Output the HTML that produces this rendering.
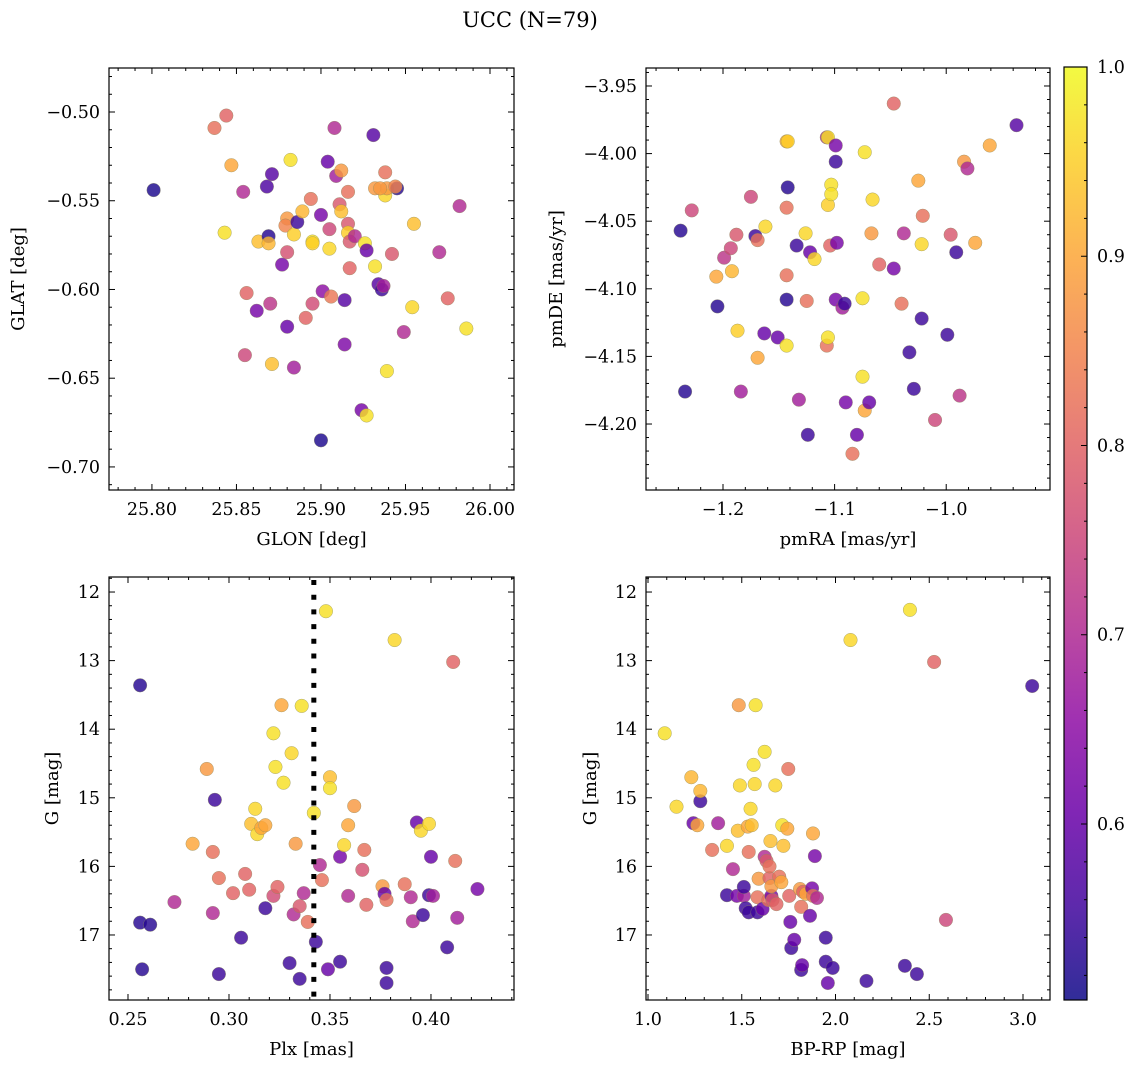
<!DOCTYPE html>
<html><head><meta charset="utf-8"><style>
body{margin:0;background:#fff;}
svg text{font-family:"DejaVu Serif","Liberation Serif",serif;fill:#000;}
</style></head><body>
<svg id="fig" width="1136" height="1067" viewBox="0 0 1136 1067" xmlns="http://www.w3.org/2000/svg">
<defs>
<linearGradient id="plasma" x1="0" y1="1" x2="0" y2="0">
<stop offset="0" stop-color="#0d0887"/><stop offset="0.1" stop-color="#41049d"/><stop offset="0.2" stop-color="#6a00a8"/><stop offset="0.3" stop-color="#8f0da4"/><stop offset="0.4" stop-color="#b12a90"/><stop offset="0.5" stop-color="#cc4778"/><stop offset="0.6" stop-color="#e16462"/><stop offset="0.7" stop-color="#f2844b"/><stop offset="0.8" stop-color="#fca636"/><stop offset="0.9" stop-color="#fcce25"/><stop offset="1" stop-color="#f0f921"/>
</linearGradient>
</defs>
<text x="530" y="27" font-size="21" text-anchor="middle">UCC (N=79)</text>
</svg>
<script>
// Panel 1: GLON vs GLAT
const glon=[25.801,25.837,25.844,25.847,25.843,25.854,25.856,25.855,25.862,25.863,25.868,25.869,25.869,25.871,25.870,25.871,25.877,25.880,25.882,25.880,25.879,25.880,25.884,25.884,25.886,25.889,25.891,25.894,25.895,25.895,25.895,25.900,25.900,25.901,25.904,25.905,25.905,25.906,25.908,25.909,25.911,25.912,25.912,25.914,25.914,25.916,25.916,25.916,25.917,25.917,25.920,25.924,25.926,25.927,25.927,25.931,25.932,25.932,25.934,25.936,25.937,25.938,25.938,25.939,25.935,25.945,25.944,25.942,25.939,25.949,25.954,25.955,25.970,25.975,25.982,25.986];
const glat=[-0.544,-0.509,-0.502,-0.530,-0.568,-0.545,-0.602,-0.637,-0.612,-0.573,-0.542,-0.570,-0.574,-0.535,-0.608,-0.642,-0.586,-0.621,-0.527,-0.560,-0.564,-0.579,-0.644,-0.569,-0.562,-0.556,-0.616,-0.549,-0.573,-0.574,-0.608,-0.685,-0.558,-0.601,-0.528,-0.566,-0.577,-0.604,-0.509,-0.536,-0.552,-0.556,-0.533,-0.606,-0.631,-0.545,-0.563,-0.568,-0.573,-0.588,-0.570,-0.668,-0.574,-0.578,-0.671,-0.513,-0.543,-0.587,-0.597,-0.600,-0.598,-0.534,-0.547,-0.543,-0.543,-0.543,-0.542,-0.580,-0.646,-0.624,-0.610,-0.563,-0.579,-0.605,-0.553,-0.622];
const prob1=[0.52,0.82,0.80,0.90,0.97,0.70,0.80,0.75,0.62,0.93,0.57,0.53,0.92,0.58,0.72,0.93,0.62,0.60,0.97,0.88,0.85,0.77,0.68,0.95,0.55,0.92,0.80,0.82,0.97,0.95,0.76,0.52,0.62,0.65,0.60,0.75,0.96,0.83,0.70,0.68,0.78,0.93,0.88,0.58,0.63,0.82,0.78,0.95,0.78,0.80,0.70,0.62,0.97,0.60,0.97,0.58,0.88,0.97,0.58,0.55,0.68,0.82,0.96,0.88,0.88,0.53,0.85,0.78,0.97,0.70,0.96,0.93,0.70,0.80,0.70,0.97];
// Panel 2: pmRA vs pmDE
const pmra=[-1.238,-1.234,-1.228,-1.205,-1.206,-1.199,-1.193,-1.192,-1.188,-1.187,-1.184,-1.175,-1.171,-1.169,-1.169,-1.163,-1.162,-1.151,-1.143,-1.142,-1.142,-1.143,-1.143,-1.143,-1.143,-1.134,-1.132,-1.125,-1.126,-1.124,-1.122,-1.118,-1.107,-1.107,-1.106,-1.106,-1.104,-1.106,-1.103,-1.103,-1.099,-1.099,-1.099,-1.098,-1.093,-1.091,-1.090,-1.084,-1.080,-1.073,-1.075,-1.075,-1.073,-1.069,-1.067,-1.066,-1.060,-1.047,-1.047,-1.040,-1.038,-1.029,-1.025,-1.021,-1.022,-1.022,-1.010,-0.996,-0.991,-0.988,-0.984,-0.981,-0.974,-0.961,-0.937,-1.033,-0.999];
const pmde=[-4.057,-4.176,-4.042,-4.113,-4.091,-4.077,-4.070,-4.087,-4.060,-4.131,-4.176,-4.032,-4.061,-4.064,-4.151,-4.133,-4.054,-4.136,-3.991,-3.991,-4.025,-4.040,-4.090,-4.108,-4.142,-4.068,-4.182,-4.109,-4.059,-4.208,-4.073,-4.078,-3.988,-4.142,-3.988,-4.038,-4.068,-4.136,-4.023,-4.030,-3.994,-4.006,-4.108,-4.066,-4.114,-4.111,-4.184,-4.222,-4.208,-3.999,-4.107,-4.165,-4.190,-4.184,-4.059,-4.034,-4.082,-3.963,-4.085,-4.111,-4.059,-4.174,-4.020,-4.046,-4.067,-4.122,-4.197,-4.060,-4.073,-4.179,-4.006,-4.011,-4.066,-3.994,-3.979,-4.147,-4.134];
const prob2=[0.53,0.53,0.75,0.53,0.90,0.72,0.75,0.92,0.78,0.95,0.68,0.75,0.55,0.82,0.90,0.60,0.96,0.60,0.90,0.95,0.53,0.82,0.82,0.53,0.97,0.55,0.68,0.82,0.96,0.55,0.60,0.96,0.70,0.82,0.97,0.95,0.80,0.97,0.97,0.97,0.62,0.55,0.62,0.62,0.68,0.55,0.62,0.82,0.60,0.97,0.97,0.97,0.90,0.60,0.88,0.96,0.80,0.80,0.62,0.82,0.70,0.55,0.90,0.82,0.96,0.55,0.75,0.78,0.55,0.72,0.88,0.70,0.90,0.90,0.58,0.55,0.55];
// Panel 3: Plx vs G
const plx=[0.256,0.256,0.257,0.261,0.273,0.282,0.289,0.292,0.292,0.293,0.295,0.295,0.302,0.306,0.308,0.310,0.311,0.313,0.314,0.316,0.318,0.318,0.322,0.322,0.323,0.324,0.326,0.327,0.330,0.331,0.332,0.333,0.335,0.335,0.336,0.337,0.339,0.342,0.343,0.345,0.346,0.348,0.349,0.350,0.350,0.355,0.355,0.357,0.359,0.359,0.362,0.366,0.367,0.368,0.376,0.377,0.378,0.378,0.378,0.382,0.387,0.390,0.391,0.393,0.395,0.396,0.399,0.399,0.400,0.401,0.408,0.411,0.412,0.413,0.423];
const gmag3=[13.36,16.82,17.50,16.85,16.52,15.67,14.58,15.79,16.68,15.03,16.17,17.57,16.39,17.04,16.11,16.34,15.38,15.16,15.53,15.44,16.61,15.40,16.43,14.06,14.55,16.30,13.65,14.78,17.41,14.35,16.70,15.67,17.64,16.58,13.66,16.39,16.81,15.22,17.10,15.98,16.20,12.28,17.50,14.70,14.86,17.39,15.86,15.69,15.40,16.43,15.12,16.05,15.76,16.56,16.29,16.40,17.70,17.48,16.49,12.70,16.26,16.45,16.80,15.36,15.48,16.71,15.38,16.42,15.86,16.43,17.18,13.02,15.92,16.75,16.33];
const prob3=[0.53,0.53,0.53,0.53,0.70,0.90,0.88,0.82,0.70,0.55,0.82,0.55,0.80,0.55,0.80,0.80,0.93,0.96,0.96,0.90,0.55,0.90,0.76,0.97,0.97,0.80,0.90,0.97,0.55,0.96,0.70,0.88,0.55,0.78,0.97,0.70,0.82,0.97,0.55,0.70,0.82,0.97,0.60,0.93,0.97,0.55,0.62,0.96,0.90,0.70,0.88,0.77,0.82,0.80,0.88,0.60,0.55,0.55,0.82,0.96,0.82,0.70,0.70,0.60,0.96,0.55,0.96,0.55,0.60,0.68,0.55,0.80,0.82,0.68,0.62];
// Panel 4: BP-RP vs G
const bprp=[1.089,1.152,1.231,1.242,1.263,1.279,1.279,1.342,1.374,1.421,1.421,1.453,1.474,1.479,1.484,1.490,1.511,1.511,1.521,1.532,1.537,1.537,1.547,1.553,1.563,1.574,1.569,1.584,1.584,1.590,1.611,1.622,1.622,1.632,1.642,1.648,1.658,1.653,1.648,1.658,1.664,1.679,1.685,1.700,1.711,1.716,1.722,1.743,1.748,1.759,1.753,1.764,1.780,1.811,1.817,1.822,1.817,1.827,1.843,1.864,1.875,1.880,1.880,1.890,1.901,1.948,1.948,1.959,1.985,2.080,2.165,2.370,2.434,2.397,2.526,2.589,3.049];
const gmag4=[14.06,15.13,14.70,15.37,15.40,15.05,14.90,15.76,15.37,16.42,15.70,16.04,16.43,15.48,13.65,14.82,16.43,16.30,16.61,15.42,15.79,16.67,15.16,15.40,14.52,13.65,14.80,16.45,16.67,16.18,16.62,15.86,14.33,15.92,16.49,16.17,16.43,15.63,16.00,16.29,16.49,14.82,16.55,16.15,16.23,15.40,15.70,15.45,14.58,16.81,16.43,17.19,17.07,16.33,17.51,17.44,16.59,16.37,16.40,16.72,16.32,16.43,15.52,15.85,16.46,17.04,17.39,17.70,17.48,12.70,17.67,17.45,17.57,12.26,13.02,16.78,13.37];
const prob4=[0.97,0.96,0.92,0.60,0.90,0.55,0.92,0.82,0.68,0.55,0.96,0.70,0.62,0.93,0.88,0.96,0.68,0.55,0.55,0.90,0.82,0.55,0.96,0.93,0.97,0.97,0.96,0.82,0.55,0.88,0.60,0.70,0.97,0.78,0.82,0.80,0.62,0.93,0.82,0.88,0.78,0.96,0.80,0.82,0.90,0.97,0.93,0.90,0.82,0.60,0.80,0.55,0.60,0.88,0.55,0.60,0.82,0.80,0.90,0.60,0.62,0.82,0.90,0.62,0.70,0.55,0.55,0.60,0.55,0.96,0.55,0.55,0.55,0.97,0.80,0.75,0.55];
const plxLine=[0.342];
const cbTicks=[0.6,0.7,0.8,0.9,1.0];
const VMIN=0.507, VMAX=1.0;

const NS='http://www.w3.org/2000/svg';
const svg=document.getElementById('fig');
const TICKFS=17.5, LABFS=18;
const stops=[[0,13,8,135],[0.1,65,4,157],[0.2,106,0,168],[0.3,143,13,164],[0.4,177,42,144],[0.5,204,71,120],[0.6,225,100,98],[0.7,242,132,75],[0.8,252,166,54],[0.9,252,206,37],[1,240,249,33]];
function plasma(p){let t=Math.max(0,Math.min(1,(p-VMIN)/(VMAX-VMIN)));for(let i=1;i<stops.length;i++){if(t<=stops[i][0]){const a=stops[i-1],b=stops[i],f=(t-a[0])/(b[0]-a[0]);return `rgb(${Math.round(a[1]+f*(b[1]-a[1]))},${Math.round(a[2]+f*(b[2]-a[2]))},${Math.round(a[3]+f*(b[3]-a[3]))})`;}}return 'rgb(240,249,33)';}
function mk(tag,attrs,parent){const e=document.createElementNS(NS,tag);for(const k in attrs)e.setAttribute(k,attrs[k]);(parent||svg).appendChild(e);return e;}
function fmt(v,d){return (v<0?'\u2212':'')+Math.abs(v).toFixed(d);}

function panel(cfg){
  const g=mk('g',{});
  
  
  const {x0,x1,y0,y1,xmin,xmax,ymin,ymax}=cfg;
  const sx=v=>x0+(v-xmin)/(xmax-xmin)*(x1-x0);
  const sy=v=>cfg.invert? y0+(v-ymin)/(ymax-ymin)*(y1-y0) : y1-(v-ymin)/(ymax-ymin)*(y1-y0);
  const pts=mk('g',{},g);
  
  
  for(let i=0;i<cfg.xs.length;i++){
    const c=mk('circle',{cx:sx(cfg.xs[i]),cy:sy(cfg.ys[i]),r:6.8,fill:plasma(cfg.ps[i]),'fill-opacity':0.82,stroke:'#8a8a60','stroke-width':0.5,'stroke-opacity':0.7},pts);
    
    
  }
  if(cfg.vline){for(const v of cfg.vline){const l=mk('line',{x1:sx(v),x2:sx(v),y1:y0+3,y2:y1,stroke:'#000','stroke-width':5,'stroke-dasharray':'5 9.7'},g);
    
    }}
  const frame=mk('rect',{x:x0,y:y0,width:x1-x0,height:y1-y0,fill:'none',stroke:'#000','stroke-width':1.2},g);
  
  
  const eps=1e-9;
  for(let k=Math.ceil((xmin)/cfg.xminor-eps);k*cfg.xminor<=xmax+eps;k++){
    const v=k*cfg.xminor;const isMaj=Math.abs(v/cfg.xmajor-Math.round(v/cfg.xmajor))<1e-6;const L=isMaj?6:3;const X=sx(v);
    mk('line',{x1:X,x2:X,y1:y1,y2:y1-L,stroke:'#000','stroke-width':1},g);
    mk('line',{x1:X,x2:X,y1:y0,y2:y0+L,stroke:'#000','stroke-width':1},g);
    if(isMaj){const t=mk('text',{x:X,y:y1+25,'font-size':TICKFS,'text-anchor':'middle'},g);t.textContent=fmt(v,cfg.xd);
      
      }
  }
  for(let k=Math.ceil((Math.min(ymin,ymax))/cfg.yminor-eps);k*cfg.yminor<=Math.max(ymin,ymax)+eps;k++){
    const v=k*cfg.yminor;const isMaj=Math.abs(v/cfg.ymajor-Math.round(v/cfg.ymajor))<1e-6;const L=isMaj?6:3;const Y=sy(v);
    mk('line',{x1:x0,x2:x0+L,y1:Y,y2:Y,stroke:'#000','stroke-width':1},g);
    mk('line',{x1:x1,x2:x1-L,y1:Y,y2:Y,stroke:'#000','stroke-width':1},g);
    if(isMaj){const t=mk('text',{x:x0-9,y:Y+6,'font-size':TICKFS,'text-anchor':'end'},g);t.textContent=fmt(v,cfg.yd);
      
      }
  }
  const xl=mk('text',{x:(x0+x1)/2,y:y1+55,'font-size':LABFS,'text-anchor':'middle'},g);xl.textContent=cfg.xlabel;
  
  
  const yx=cfg.ylx,yy=(y0+y1)/2;
  const yl=mk('text',{x:yx,y:yy,'font-size':LABFS,'text-anchor':'middle',transform:`rotate(-90 ${yx} ${yy})`},g);yl.textContent=cfg.ylabel;
  
  
}

panel({name:'glon-glat-panel',x0:109,x1:514,y0:68,y1:490,xmin:25.7746,xmax:26.0142,ymin:-0.7130,ymax:-0.4752,xmajor:0.05,xminor:0.01,ymajor:0.05,yminor:0.01,xd:2,yd:2,xs:glon,ys:glat,ps:prob1,xlabel:'GLON [deg]',ylabel:'GLAT [deg]',ylx:24});
panel({name:'pm-panel',x0:646,x1:1050,y0:68,y1:490,xmin:-1.269,xmax:-0.907,ymin:-4.2488,ymax:-3.9367,xmajor:0.1,xminor:0.02,ymajor:0.05,yminor:0.01,xd:1,yd:2,xs:pmra,ys:pmde,ps:prob2,xlabel:'pmRA [mas/yr]',ylabel:'pmDE [mas/yr]',ylx:562});
panel({name:'plx-g-panel',x0:109,x1:514,y0:577,y1:1000,xmin:0.2406,xmax:0.4411,ymin:11.781,ymax:17.948,invert:true,xmajor:0.05,xminor:0.01,ymajor:1,yminor:0.2,xd:2,yd:0,xs:plx,ys:gmag3,ps:prob3,vline:plxLine,xlabel:'Plx [mas]',ylabel:'G [mag]',ylx:58});
panel({name:'cmd-panel',x0:646,x1:1050,y0:577,y1:1000,xmin:0.9893,xmax:3.144,ymin:11.781,ymax:17.948,invert:true,xmajor:0.5,xminor:0.1,ymajor:1,yminor:0.2,xd:1,yd:0,xs:bprp,ys:gmag4,ps:prob4,xlabel:'BP-RP [mag]',ylabel:'G [mag]',ylx:596});

const cb=mk('g',{});


const cy0=67,cy1=1000,cx0=1064,cx1=1087;
const cbs=v=>cy1-(v-VMIN)/(VMAX-VMIN)*(cy1-cy0);
mk('rect',{x:cx0,y:cy0,width:cx1-cx0,height:cy1-cy0,fill:'url(#plasma)','fill-opacity':0.85,stroke:'#000','stroke-width':1.2},cb);
for(let k=26;k<=50;k++){const v=k*0.02;if(v<VMIN)continue;const Y=cbs(v);const maj=k%5===0;
  mk('line',{x1:cx1,x2:cx1-(maj?6:3),y1:Y,y2:Y,stroke:'#000','stroke-width':1},cb);}
for(const v of cbTicks){const t=mk('text',{x:cx1+10,y:cbs(v)+6,'font-size':TICKFS},cb);t.textContent=v.toFixed(1);
  
  }
</script>
</body></html>
